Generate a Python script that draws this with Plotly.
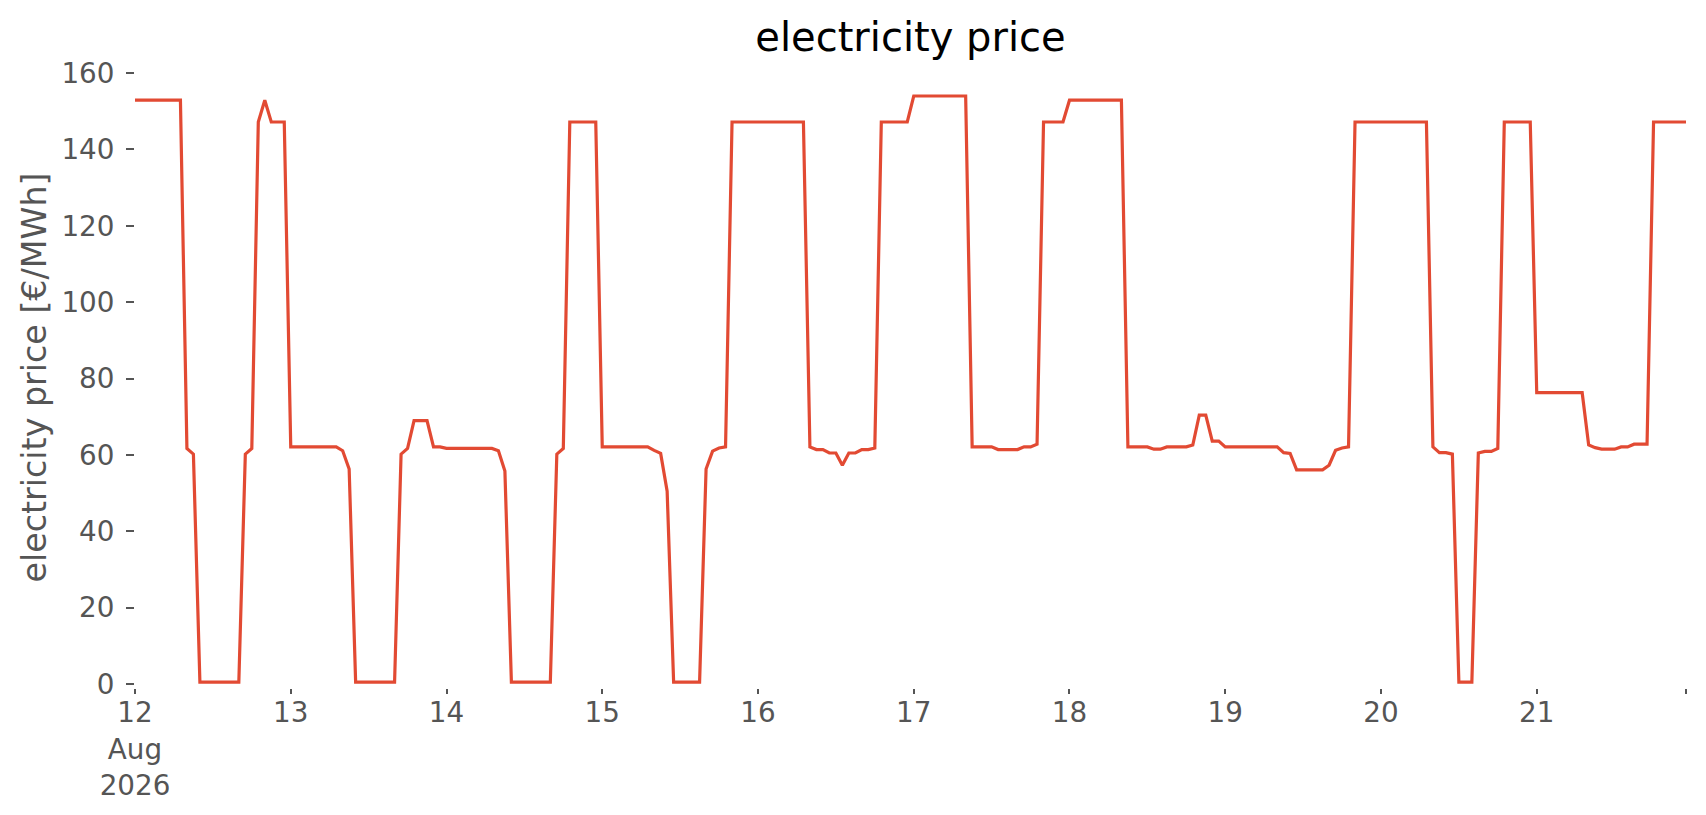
import pandas as pd
import plotly.graph_objects as go

# hourly electricity price [€/MWh], one list per day (00:00 .. 23:00)
aug12 = [152.9, 152.9, 152.9, 152.9, 152.9, 152.9, 152.9, 152.9, 61.7, 60.2, 0.5, 0.5,
         0.5, 0.5, 0.5, 0.5, 0.5, 60.2, 61.7, 147.2, 152.9, 147.2, 147.2, 147.2]
aug13 = [62.1, 62.1, 62.1, 62.1, 62.1, 62.1, 62.1, 62.1, 61.1, 56.3, 0.5, 0.5,
         0.5, 0.5, 0.5, 0.5, 0.5, 60.2, 61.7, 69.0, 69.0, 69.0, 62.1, 62.1]
aug14 = [61.7, 61.7, 61.7, 61.7, 61.7, 61.7, 61.7, 61.7, 61.1, 55.8, 0.5, 0.5,
         0.5, 0.5, 0.5, 0.5, 0.5, 60.2, 61.7, 147.2, 147.2, 147.2, 147.2, 147.2]
aug15 = [62.1, 62.1, 62.1, 62.1, 62.1, 62.1, 62.1, 62.1, 61.2, 60.4, 50.5, 0.5,
         0.5, 0.5, 0.5, 0.5, 56.3, 61.0, 61.8, 62.1, 147.2, 147.2, 147.2, 147.2]
aug16 = [147.2, 147.2, 147.2, 147.2, 147.2, 147.2, 147.2, 147.2, 62.1, 61.4, 61.4, 60.5,
         60.5, 57.3, 60.5, 60.5, 61.4, 61.4, 61.8, 147.2, 147.2, 147.2, 147.2, 147.2]
aug17 = [154.0, 154.0, 154.0, 154.0, 154.0, 154.0, 154.0, 154.0, 154.0, 62.1, 62.1, 62.1,
         62.1, 61.4, 61.4, 61.4, 61.4, 62.1, 62.1, 62.8, 147.2, 147.2, 147.2, 147.2]
aug18 = [152.9, 152.9, 152.9, 152.9, 152.9, 152.9, 152.9, 152.9, 152.9, 62.1, 62.1, 62.1,
         62.1, 61.5, 61.5, 62.1, 62.1, 62.1, 62.1, 62.6, 70.4, 70.4, 63.6, 63.6]
aug19 = [62.1, 62.1, 62.1, 62.1, 62.1, 62.1, 62.1, 62.1, 62.1, 60.6, 60.4, 56.1,
         56.1, 56.1, 56.1, 56.1, 57.3, 61.2, 61.8, 62.1, 147.2, 147.2, 147.2, 147.2]
aug20 = [147.2, 147.2, 147.2, 147.2, 147.2, 147.2, 147.2, 147.2, 62.1, 60.6, 60.6, 60.2,
         0.5, 0.5, 0.5, 60.5, 60.9, 60.9, 61.7, 147.2, 147.2, 147.2, 147.2, 147.2]
aug21 = [76.3, 76.3, 76.3, 76.3, 76.3, 76.3, 76.3, 76.3, 62.6, 61.9, 61.5, 61.5,
         61.5, 62.1, 62.1, 62.8, 62.8, 62.8, 147.2, 147.2, 147.2, 147.2, 147.2, 147.2]

day_lists = [aug12, aug13, aug14, aug15, aug16, aug17, aug18, aug19, aug20, aug21]
prices = [v for day in day_lists for v in day]
times = pd.date_range("2026-08-12 00:00", periods=len(prices), freq="h")

x_tick_labels = ["12<br>Aug<br>2026", "13", "14", "15", "16", "17", "18", "19", "20", "21", ""]
x_tick_vals = list(pd.date_range("2026-08-12", periods=10, freq="D")) + [times[-1]]
y_tick_vals = [0, 20, 40, 60, 80, 100, 120, 140, 160]

FONT = "DejaVu Sans"
GREY = "#555555"

fig = go.Figure()
fig.add_trace(go.Scatter(x=times, y=prices, mode="lines",
                         line=dict(color="#E24A33", width=3.2), showlegend=False))

fig.update_layout(
    width=1706, height=815,
    margin=dict(l=127, r=28, t=59, b=135),
    paper_bgcolor="white", plot_bgcolor="white",
    title=dict(text="electricity price", x=0.5, xref="paper", xanchor="center",
               y=1 - 29 / 815, yref="container", yanchor="middle",
               font=dict(family=FONT, size=40, color="black")),
    xaxis=dict(range=[times[0], times[-1]], tickvals=x_tick_vals, ticktext=x_tick_labels,
               ticks="outside", ticklen=5, tickwidth=1.6, tickcolor=GREY,
               ticklabelstandoff=-5,
               showgrid=False, zeroline=False, showline=False,
               tickfont=dict(family=FONT, size=27.8, color=GREY)),
    yaxis=dict(range=[-1.05, 161.6], tickvals=y_tick_vals,
               ticks="outside", ticklen=8, tickwidth=1.6, tickcolor=GREY,
               ticklabelstandoff=6,
               showgrid=False, zeroline=False, showline=False,
               tickfont=dict(family=FONT, size=27.8, color=GREY)),
    annotations=[dict(text="electricity price [€/MWh]", xref="paper", yref="paper",
                      x=0, y=0.5, xshift=-101, xanchor="center", yanchor="middle",
                      textangle=-90, showarrow=False,
                      font=dict(family=FONT, size=33.3, color=GREY))],
)

fig.write_html("out.html")
